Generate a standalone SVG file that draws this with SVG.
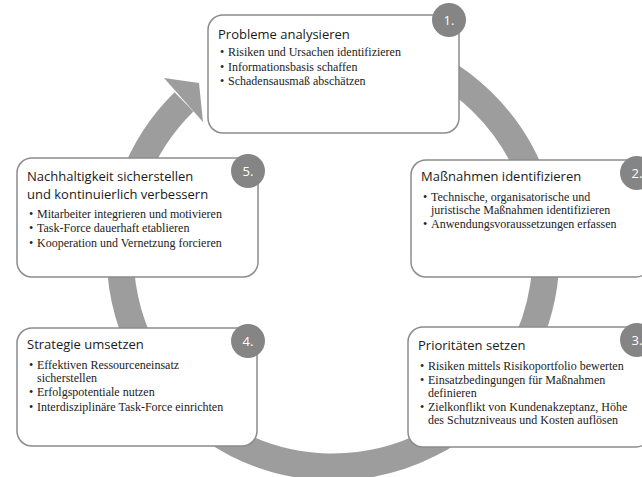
<svg xmlns="http://www.w3.org/2000/svg" width="642" height="477" viewBox="0 0 642 477">
<style>
.box{fill:#fff;stroke:#8c8c8c;stroke-width:1.5}
.badge{fill:#858585}
.bt{font-family:"Open Sans","Liberation Sans",sans-serif;font-size:13px;fill:#fff;text-anchor:middle}
.title{font-family:"Open Sans","Liberation Sans",sans-serif;font-size:13px;fill:#1a1a1a}
.item{font-family:"Liberation Serif","Times New Roman",serif;font-size:12px;fill:#222}
.ring{fill:none;stroke:#9d9d9d;stroke-width:27}
</style>
<g id="connectors">
<path class="ring" d="M296,44.2 A213,213 0 1 1 184,101.8"/>
<polygon points="164,78 199,83 203,122" fill="#9d9d9d"/>
</g>
<g id="node1">
<rect class="box" x="208" y="15" width="251" height="118" rx="15"/>
<circle class="badge" cx="449" cy="20" r="17"/>
<text class="bt" x="449" y="24.5">1.</text>
<text class="title" x="218" y="39">Probleme analysieren</text>
<text class="item" x="220" y="56">•</text><text class="item" x="228" y="56">Risiken und Ursachen identifizieren</text>
<text class="item" x="220" y="71">•</text><text class="item" x="228" y="71">Informationsbasis schaffen</text>
<text class="item" x="220" y="85">•</text><text class="item" x="228" y="85">Schadensausmaß abschätzen</text>
</g>
<g id="node2">
<rect class="box" x="411" y="160" width="240" height="117" rx="15"/>
<circle class="badge" cx="637" cy="173" r="17"/>
<text class="bt" x="637" y="177.5">2.</text>
<text class="title" x="421" y="181">Maßnahmen identifizieren</text>
<text class="item" x="423" y="201">•</text><text class="item" x="431" y="201">Technische, organisatorische und</text>
<text class="item" x="431" y="214">juristische Maßnahmen identifizieren</text>
<text class="item" x="423" y="228">•</text><text class="item" x="431" y="228">Anwendungsvoraussetzungen erfassen</text>
</g>
<g id="node3">
<rect class="box" x="408" y="327" width="243" height="120" rx="15"/>
<circle class="badge" cx="637" cy="340" r="17"/>
<text class="bt" x="637" y="344.5">3.</text>
<text class="title" x="418" y="350">Prioritäten setzen</text>
<text class="item" x="420" y="370">•</text><text class="item" x="428" y="370">Risiken mittels Risikoportfolio bewerten</text>
<text class="item" x="420" y="384">•</text><text class="item" x="428" y="384">Einsatzbedingungen für Maßnahmen</text>
<text class="item" x="428" y="397">definieren</text>
<text class="item" x="420" y="411">•</text><text class="item" x="428" y="411">Zielkonflikt von Kundenakzeptanz, Höhe</text>
<text class="item" x="428" y="424">des Schutzniveaus und Kosten auflösen</text>
</g>
<g id="node4">
<rect class="box" x="17" y="328" width="240" height="118" rx="15"/>
<circle class="badge" cx="248" cy="341" r="17"/>
<text class="bt" x="248" y="345.5">4.</text>
<text class="title" x="27" y="349">Strategie umsetzen</text>
<text class="item" x="29" y="369">•</text><text class="item" x="37" y="369">Effektiven Ressourceneinsatz</text>
<text class="item" x="37" y="382">sicherstellen</text>
<text class="item" x="29" y="396">•</text><text class="item" x="37" y="396">Erfolgspotentiale nutzen</text>
<text class="item" x="29" y="411">•</text><text class="item" x="37" y="411">Interdisziplinäre Task-Force einrichten</text>
</g>
<g id="node5">
<rect class="box" x="17" y="158" width="241" height="119" rx="15"/>
<circle class="badge" cx="248" cy="171" r="17"/>
<text class="bt" x="248" y="175.5">5.</text>
<text class="title" x="27" y="181">Nachhaltigkeit sicherstellen</text>
<text class="title" x="27" y="199">und kontinuierlich verbessern</text>
<text class="item" x="29" y="218">•</text><text class="item" x="37" y="218">Mitarbeiter integrieren und motivieren</text>
<text class="item" x="29" y="232">•</text><text class="item" x="37" y="232">Task-Force dauerhaft etablieren</text>
<text class="item" x="29" y="247">•</text><text class="item" x="37" y="247">Kooperation und Vernetzung forcieren</text>
</g>
</svg>
